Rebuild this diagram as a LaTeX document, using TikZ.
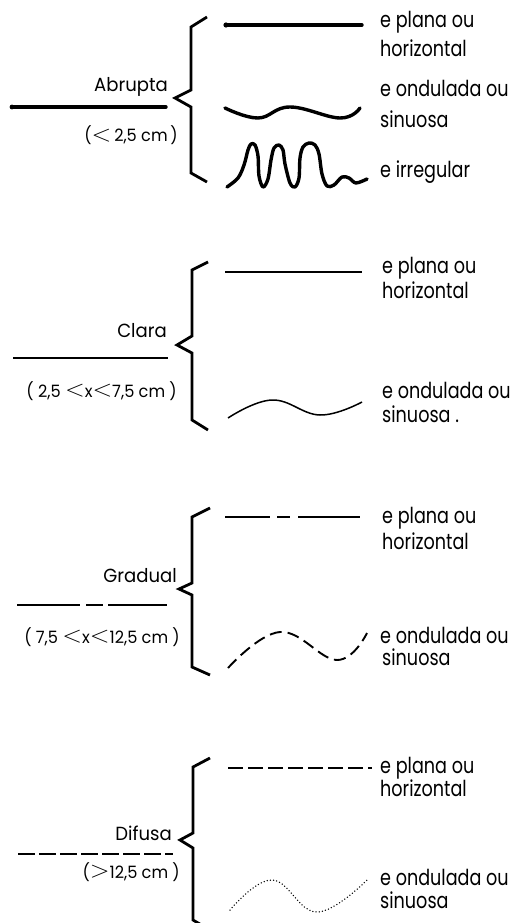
\documentclass[tikz,border=0pt]{standalone}
\usepackage{fontspec}
\setmainfont{Poppins}
\newfontfamily\leftfont{Poppins}[FakeStretch=0.95]
\newfontfamily\rightfont{Poppins}[FakeStretch=0.8]
\newcommand{\ltn}{\raisebox{0.1ex}{\scalebox{1.5}[1.35]{\(<\)}}}
\newcommand{\gtn}{\raisebox{0.1ex}{\scalebox{1.5}[1.35]{\(>\)}}}
\begin{document}
\begin{tikzpicture}[x=1pt,y=-1pt,
  brace/.style={line width=2.8pt, line join=miter},
  thickln/.style={line width=3.4pt, line cap=round, line join=round},
  thinln/.style={line width=1.5pt},
  medln/.style={line width=1.9pt},
  lbl/.style={anchor=base east, inner sep=0pt, font=\leftfont\fontsize{19}{22}\selectfont},
  plbl/.style={anchor=base east, inner sep=0pt, font=\leftfont\fontsize{17}{20}\selectfont},
  rtxt/.style={anchor=base west, inner sep=0pt, font=\rightfont\fontsize{22}{25}\selectfont}]
\useasboundingbox (0,0) rectangle (516,923);

% ---------- Abrupta ----------
\draw[brace] (207,17) -- (191,27) -- (191,90) -- (175,98) -- (191,107) -- (191,173) -- (207,182);
\draw[thickln] (226,25) -- (362,25);
\fill (226,25) circle (2.6pt);
\draw[thickln] (12,107) -- (166,107);
\fill (12,107) circle (2.4pt);
\draw[thickln] plot[smooth, tension=0.7] coordinates {(225,108) (258,118) (290,107) (340,118) (360,108)};
\draw[thickln] plot[smooth, tension=0.55] coordinates {(227,187) (238,178) (244,165) (248,150) (251,144) (255,145) (258,156) (259,176) (263,187) (268,179) (271,160) (274,148) (279,145) (283,150) (285,164) (290,183) (295,187) (299,178) (300,158) (303,147) (309,143) (315,145) (319,154) (322,174) (327,186) (334,185) (342,177) (349,178) (356,183) (367,179)};
\node[lbl] (abr) at (168,92) {Abrupta};
\node[plbl] (abrr) at (178,142) {(\ltn\,2,5 cm\,)};
\node[rtxt] (a1) at (380,28) {e plana ou};
\node[rtxt] (a2) at (380,57) {horizontal};
\node[rtxt] (a3) at (380,97) {e ondulada ou};
\node[rtxt] (a4) at (380,128) {sinuosa};
\node[rtxt] (a5) at (380,177) {e irregular};

% ---------- Clara ----------
\draw[brace] (208,262) -- (192,270) -- (192,336) -- (177,345) -- (192,353) -- (192,420) -- (208,430);
\draw[thinln] (225,272) -- (362,272);
\draw[thinln] (13,358) -- (168,358);
\draw[thinln] plot[smooth, tension=0.7] coordinates {(228,418) (272,400) (320,415) (362,402)};
\node[lbl] (cla) at (167,337) {Clara};
\node[plbl] (clar) at (177,397) {( 2,5 \ltn x\ltn 7,5 cm )};
\node[rtxt] (c1) at (382,273) {e plana ou};
\node[rtxt] (c2) at (382,298) {horizontal};
\node[rtxt] (c3) at (382,398) {e ondulada ou};
\node[rtxt] (c4) at (382,422) {sinuosa .};

% ---------- Gradual ----------
\draw[brace] (210,508) -- (192,517) -- (192,583) -- (179,589) -- (192,595) -- (192,667) -- (210,675);
\draw[medln] (225,517) -- (270,517) (277,517) -- (290,517) (298,517) -- (360,517);
\draw[medln] (17,605) -- (80,605) (86,605) -- (103,605) (108,605) -- (167,605);
\draw[medln, dash pattern=on 12pt off 6pt] plot[smooth, tension=0.7] coordinates {(228,668) (280,632) (337,660) (367,633)};
\node[lbl] (gra) at (177,582) {Gradual};
\node[plbl] (grar) at (180,643) {( 7,5 \ltn x\ltn 12,5 cm )};
\node[rtxt] (g1) at (382,523) {e plana ou};
\node[rtxt] (g2) at (382,549) {horizontal};
\node[rtxt] (g3) at (380,643) {e ondulada ou};
\node[rtxt] (g4) at (382,665) {sinuosa};

% ---------- Difusa ----------
\draw[brace] (210,758) -- (193,767) -- (193,833) -- (180,840) -- (193,848) -- (193,920) -- (210,930);
\draw[medln, dash pattern=on 15pt off 5pt] (228,768) -- (372,768);
\draw[medln, dash pattern=on 17pt off 4pt] (18,854) -- (173,854);
\draw[line width=1.5pt, line cap=round, dash pattern=on 0pt off 3.2pt] plot[smooth, tension=0.7] coordinates {(230,910) (272,880) (317,912) (367,880)};
\node[lbl] (dif) at (172,840) {Difusa};
\node[plbl] (difr) at (180,878) {(\gtn 12,5 cm )};
\node[rtxt] (d1) at (380,773) {e plana ou};
\node[rtxt] (d2) at (380,796) {horizontal};
\node[rtxt] (d3) at (380,885) {e ondulada ou};
\node[rtxt] (d4) at (380,908) {sinuosa};
\end{tikzpicture}
\end{document}
